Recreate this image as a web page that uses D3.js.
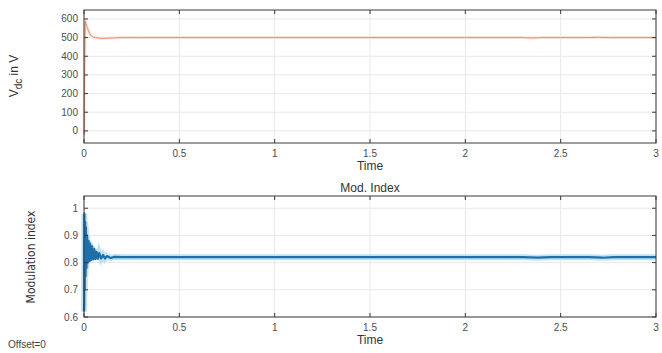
<!DOCTYPE html>
<html>
<head>
<meta charset="utf-8">
<script src="https://cdn.jsdelivr.net/npm/d3@7"></script>
<style>
  body { margin: 0; background: #fff; }
  svg { font-family: "Liberation Sans", Arial, sans-serif; }
  .tick-label { fill: #4d4d4d; font-size: 10px; }
  .axis-title { fill: #333; font-size: 12px; }
  .grid line { stroke: #e8e8e8; stroke-width: 1; }
</style>
</head>
<body>
<script>
// ---- data ----
var xTicks = [0, 0.5, 1, 1.5, 2, 2.5, 3];
var xTickLabels = ["0", "0.5", "1", "1.5", "2", "2.5", "3"];

var vdcTicks = [0, 100, 200, 300, 400, 500, 600];
var vdcTime = [0, 0.001, 0.002, 0.004, 0.006, 0.008, 0.01, 0.015, 0.02, 0.03, 0.04, 0.05,
               0.06, 0.08, 0.1, 0.15, 0.2, 0.3, 1, 2, 2.3, 2.35, 2.4, 2.65, 2.7, 2.75, 3];
var vdcValue = [0, -20, 200, 420, 560, 590, 575, 560, 545, 522, 508, 502,
                500, 497, 496, 498, 500, 500, 500, 500, 500, 498, 500, 500, 502, 500, 500];

var miTicks = [0.6, 0.7, 0.8, 0.9, 1];
var miTime = [0, 0.001, 0.002, 0.004, 0.006, 0.008, 0.01, 0.013, 0.016, 0.02, 0.024, 0.028,
              0.032, 0.037, 0.042, 0.048, 0.054, 0.06, 0.066, 0.073, 0.08, 0.09, 0.1,
              0.11, 0.12, 0.14, 0.16, 0.2, 1, 2, 2.3, 2.38, 2.45, 2.65, 2.72, 2.78, 3];
var miValue = [0.62, 0.64, 0.98, 0.70, 0.95, 0.75, 0.93, 0.78, 0.90, 0.80, 0.88, 0.805,
               0.87, 0.81, 0.86, 0.812, 0.85, 0.813, 0.84, 0.814, 0.835, 0.815, 0.828,
               0.815, 0.824, 0.817, 0.821, 0.82, 0.82, 0.82, 0.82, 0.818, 0.82, 0.82, 0.818, 0.82, 0.82];

var W = 662, H = 353;
var svg = d3.select("body").append("svg")
    .attr("width", W)
    .attr("height", H);

function drawPanel(opt) {
    var x = d3.scaleLinear().domain([0, 3]).range([opt.left, opt.right]);
    var y = d3.scaleLinear().domain(opt.yDomain).range([opt.bottom, opt.top]);
    var g = svg.append("g");

    // grid
    var grid = g.append("g").attr("class", "grid");
    grid.selectAll("line.gx").data(xTicks).enter().append("line")
        .attr("x1", d => x(d)).attr("x2", d => x(d))
        .attr("y1", opt.top).attr("y2", opt.bottom);
    grid.selectAll("line.gy").data(opt.yTicks).enter().append("line")
        .attr("x1", opt.left).attr("x2", opt.right)
        .attr("y1", d => y(d)).attr("y2", d => y(d));

    // data line
    var line = d3.line().x(d => x(d[0])).y(d => y(d[1]));
    var pts = d3.zip(opt.xs, opt.ys);
    if (opt.under) {
        g.append("path").datum(pts)
            .attr("d", line).attr("fill", "none")
            .attr("stroke", opt.under).attr("stroke-width", opt.underWidth);
    }
    g.append("path").datum(pts)
        .attr("d", line)
        .attr("fill", "none")
        .attr("stroke", opt.color)
        .attr("stroke-width", opt.width)
        .attr("stroke-linejoin", "round");

    // box
    g.append("rect")
        .attr("x", opt.left).attr("y", opt.top)
        .attr("width", opt.right - opt.left).attr("height", opt.bottom - opt.top)
        .attr("fill", "none").attr("stroke", "#3a3a3a").attr("stroke-width", 1);

    // ticks (inside, both sides)
    var tl = 4;
    xTicks.forEach(function(t) {
        g.append("line").attr("x1", x(t)).attr("x2", x(t))
            .attr("y1", opt.bottom).attr("y2", opt.bottom - tl).attr("stroke", "#3a3a3a");
        g.append("line").attr("x1", x(t)).attr("x2", x(t))
            .attr("y1", opt.top).attr("y2", opt.top + tl).attr("stroke", "#3a3a3a");
    });
    opt.yTicks.forEach(function(t) {
        g.append("line").attr("x1", opt.left).attr("x2", opt.left + tl)
            .attr("y1", y(t)).attr("y2", y(t)).attr("stroke", "#3a3a3a");
        g.append("line").attr("x1", opt.right).attr("x2", opt.right - tl)
            .attr("y1", y(t)).attr("y2", y(t)).attr("stroke", "#3a3a3a");
    });

    // tick labels
    g.selectAll("text.xl").data(xTicks).enter().append("text")
        .attr("class", "tick-label")
        .attr("x", d => x(d)).attr("y", opt.bottom + 14)
        .attr("text-anchor", "middle")
        .text((d, i) => xTickLabels[i]);
    g.selectAll("text.yl").data(opt.yTicks).enter().append("text")
        .attr("class", "tick-label")
        .attr("x", opt.left - 6).attr("y", d => y(d) + 3.5)
        .attr("text-anchor", "end")
        .text(d => d);

    // x title
    g.append("text").attr("class", "axis-title")
        .attr("x", (opt.left + opt.right) / 2).attr("y", opt.bottom + 27)
        .attr("text-anchor", "middle")
        .text("Time");
    return g;
}

// top panel: Vdc
var vdcPanel = drawPanel({
    left: 84, right: 656, top: 10, bottom: 143,
    yDomain: [-65, 648], yTicks: vdcTicks,
    xs: vdcTime, ys: vdcValue,
    color: "#e98a6f", width: 1, under: "#fbe6df", underWidth: 3
});
var vt = vdcPanel.append("text").attr("class", "axis-title")
    .attr("transform", "translate(18,76) rotate(-90)")
    .attr("text-anchor", "middle")
    .attr("font-size", "13px");
vt.append("tspan").text("V");
vt.append("tspan").attr("dy", 4).attr("font-size", "10px").text("dc");
vt.append("tspan").attr("dy", -4).text(" in V");

// bottom panel: modulation index
var miPanel = drawPanel({
    left: 84, right: 656, top: 196, bottom: 317,
    yDomain: [0.6, 1.045], yTicks: miTicks,
    xs: miTime, ys: miValue,
    color: "#1f6fa8", width: 2.2, under: "#bfe3f5", underWidth: 6
});
miPanel.append("text").attr("class", "axis-title")
    .attr("x", 370).attr("y", 192)
    .attr("text-anchor", "middle")
    .text("Mod. Index");
miPanel.append("text")
    .attr("transform", "translate(35,257) rotate(-90)")
    .attr("text-anchor", "middle")
    .attr("font-family", "'Liberation Sans Narrow', 'DejaVu Sans Condensed', sans-serif")
    .attr("font-size", "12px")
    .attr("fill", "#333")
    .text("Modulation index");

svg.append("text")
    .attr("x", 8).attr("y", 348)
    .attr("font-size", "10px").attr("fill", "#444")
    .text("Offset=0");
</script>
</body>
</html>
